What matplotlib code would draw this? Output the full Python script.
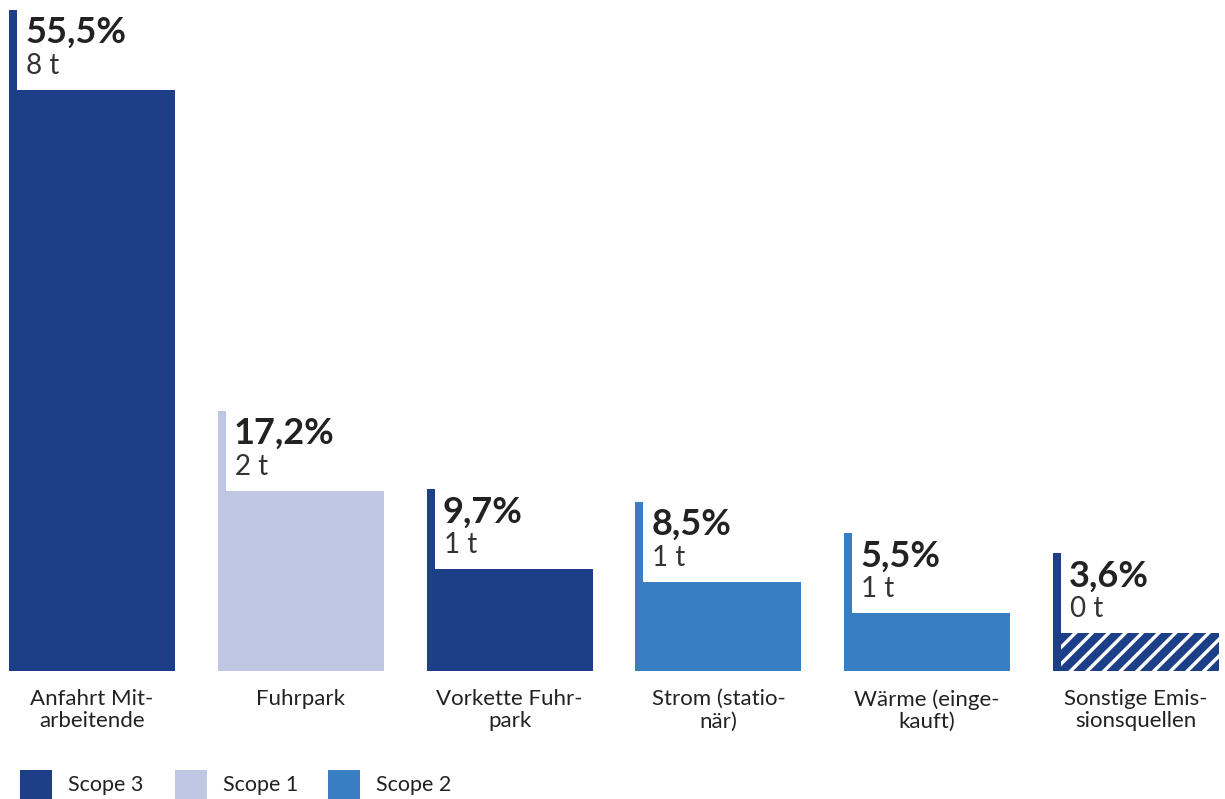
import matplotlib.pyplot as plt
from matplotlib.patches import Rectangle

plt.rcParams['font.family'] = ['Lato', 'DejaVu Sans']
plt.rcParams['hatch.linewidth'] = 6

# Daten
kategorien = ['Anfahrt Mit-\narbeitende', 'Fuhrpark', 'Vorkette Fuhr-\npark',
              'Strom (statio-\nnär)', 'Wärme (einge-\nkauft)', 'Sonstige Emis-\nsionsquellen']
anteile = [55.5, 17.2, 9.7, 8.5, 5.5, 3.6]
tonnen = [8, 2, 1, 1, 1, 0]
scope = ['Scope 3', 'Scope 1', 'Scope 3', 'Scope 2', 'Scope 2', 'Sonstige']

farben = {'Scope 3': '#1c3f87', 'Scope 1': '#bfc7e5', 'Scope 2': '#377ec3', 'Sonstige': '#1c3f87'}
legende = ['Scope 3', 'Scope 1', 'Scope 2']

W, H = 1225, 799
fig = plt.figure(figsize=(W / 100, H / 100), dpi=100)
ax = fig.add_axes([0, 128 / H, 1, 671 / H])

ax.set_xlim(-0.4406, 5.426)
ax.set_ylim(0, 64.1)

breite = 0.795
linie_b = 0.038
linie_extra = 7.64  # ca. 80 px ueber dem Balken

for i, (k, a, t, s) in enumerate(zip(kategorien, anteile, tonnen, scope)):
    links = i - breite / 2
    if s == 'Sonstige':
        ax.bar(i, a, width=breite, color='white', edgecolor=farben[s], hatch='//', linewidth=0)
    else:
        ax.bar(i, a, width=breite, color=farben[s], linewidth=0)
    ax.bar(links, a + linie_extra, width=linie_b, align='edge', color=farben[s], linewidth=0)
    oben = a + linie_extra
    ax.annotate(f'{a:.1f}%'.replace('.', ','), xy=(links, oben), xytext=(16, -33),
                textcoords='offset pixels', fontsize=26, fontweight='bold',
                color='#222222', va='baseline', ha='left')
    ax.annotate(f'{t} t', xy=(links, oben), xytext=(17, -64),
                textcoords='offset pixels', fontsize=20,
                color='#333333', va='baseline', ha='left')

ax.set_xticks(range(len(kategorien)))
ax.set_xticklabels(kategorien, fontsize=16, color='#222222', linespacing=1.15)
ax.tick_params(axis='x', length=0, pad=13)
ax.set_yticks([])
for sp in ax.spines.values():
    sp.set_visible(False)

# Legende
leg_x = [20, 175, 328]
for x, name in zip(leg_x, legende):
    fig.add_artist(Rectangle((x / W, 0), 32 / W, 29 / H, transform=fig.transFigure,
                             color=farben[name], linewidth=0))
    fig.text((x + 48) / W, 14 / H, name, fontsize=15.5, color='#222222', va='center', ha='left')

plt.savefig('out.png', dpi=100)
